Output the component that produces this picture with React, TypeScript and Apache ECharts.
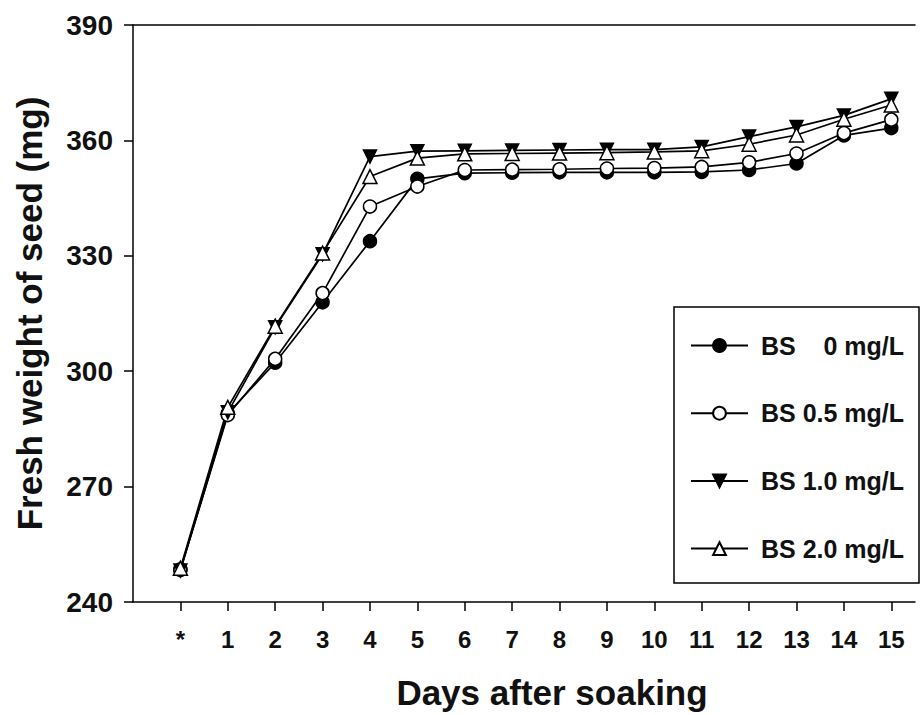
import React, { useEffect, useRef } from "react";
import * as echarts from "echarts";

const days = ["*", "1", "2", "3", "4", "5", "6", "7", "8", "9", "10", "11", "12", "13", "14", "15"];
const bs0 = [248.5, 289.0, 302.2, 317.9, 333.8, 350.0, 351.5, 351.6, 351.7, 351.7, 351.7, 351.8, 352.3, 354.0, 361.3, 363.2];
const bs05 = [248.3, 288.6, 303.2, 320.3, 342.8, 348.0, 352.3, 352.4, 352.5, 352.7, 352.8, 353.1, 354.3, 356.6, 361.9, 365.4];
const bs10 = [248.2, 289.3, 311.4, 330.4, 355.8, 357.2, 357.3, 357.4, 357.5, 357.6, 357.6, 358.3, 361.0, 363.5, 366.5, 370.8];
const bs20 = [248.8, 290.6, 311.7, 330.7, 350.6, 355.4, 356.5, 356.6, 356.7, 356.8, 357.0, 357.3, 359.0, 361.4, 365.5, 369.2];
const seriesNames = ["BS    0 mg/L", "BS 0.5 mg/L", "BS 1.0 mg/L", "BS 2.0 mg/L"];
const yTicks = [240, 270, 300, 330, 360, 390];
const xTitle = "Days after soaking";
const yTitle = "Fresh weight of seed (mg)";

const FONT = "'Liberation Sans', Arial, Helvetica, sans-serif";
const DOWN_TRI = "path://M0,0 L10,0 L5,9 Z";
const UP_TRI = "path://M5,0 L10,9 L0,9 Z";

export default function App() {
  const ref = useRef<HTMLDivElement>(null);
  useEffect(() => {
    if (!ref.current) return;
    const chart = echarts.init(ref.current, null, { renderer: "svg" });
    const dayIdx = days.map((_, i) => i);
    const mk = (name: string, vals: number[], symbol: string, fill: string, size: number) => ({
      name,
      type: "line",
      data: vals.map((v, i) => [i, v]),
      symbol,
      symbolSize: size,
      showAllSymbol: true,
      lineStyle: { color: "#000", width: 1.7 },
      itemStyle: { color: fill, borderColor: "#000", borderWidth: 1.5 },
      z: 3,
    });
    chart.setOption({
      animation: false,
      backgroundColor: "#fff",
      textStyle: { fontFamily: FONT },
      grid: { left: 133, top: 25, right: 8, bottom: 113, containLabel: false },
      legend: {
        orient: "vertical",
        left: 690,
        top: 333,
        padding: 0,
        itemWidth: 57,
        itemHeight: 16,
        itemGap: 42.7,
        textStyle: {
          fontFamily: FONT,
          fontWeight: "bold",
          fontSize: 25,
          color: "#111",
          padding: [0, 0, 0, 8],
        },
        data: seriesNames,
      },
      graphic: [
        {
          type: "rect",
          shape: { x: 674, y: 307, width: 245, height: 276 },
          style: { fill: "none", stroke: "#000", lineWidth: 1.5 },
          z: 1,
        },
        {
          type: "text",
          x: 552,
          y: 692,
          style: {
            text: xTitle,
            fontFamily: FONT,
            fontWeight: "bold",
            fontSize: 35,
            fill: "#111",
            textAlign: "center",
            textVerticalAlign: "middle",
          },
        },
      ],
      xAxis: [
        {
          type: "value",
          min: -1,
          max: 15.5,
          interval: 1,
          axisLine: { show: true, onZero: false, lineStyle: { color: "#000", width: 1.5 } },
          axisTick: {
            show: true,
            inside: false,
            length: 9,
            customValues: dayIdx,
            lineStyle: { color: "#000", width: 1.5 },
          },
          axisLabel: {
            customValues: dayIdx,
            margin: 25,
            fontFamily: FONT,
            fontWeight: "bold",
            fontSize: 24,
            color: "#111",
            formatter: (v: number) => days[v] ?? "",
          },
          splitLine: { show: false },
        },
        {
          type: "value",
          position: "top",
          min: -1,
          max: 15.5,
          axisLine: { show: true, onZero: false, lineStyle: { color: "#000", width: 1.5 } },
          axisTick: { show: false },
          axisLabel: { show: false },
          splitLine: { show: false },
        },
      ],
      yAxis: {
        type: "value",
        min: yTicks[0],
        max: yTicks[yTicks.length - 1],
        interval: 30,
        axisLine: { show: true, onZero: false, lineStyle: { color: "#000", width: 1.5 } },
        axisTick: { show: true, inside: false, length: 9, lineStyle: { color: "#000", width: 1.5 } },
        axisLabel: {
          margin: 20,
          fontFamily: FONT,
          fontWeight: "bold",
          fontSize: 28,
          color: "#111",
        },
        splitLine: { show: false },
        name: yTitle,
        nameLocation: "middle",
        nameGap: 86,
        nameRotate: 90,
        nameTextStyle: { fontFamily: FONT, fontWeight: "bold", fontSize: 35, color: "#111" },
      },
      series: [
        mk(seriesNames[0], bs0, "circle", "#000", 13),
        mk(seriesNames[1], bs05, "circle", "#fff", 13),
        mk(seriesNames[2], bs10, DOWN_TRI, "#000", 13),
        mk(seriesNames[3], bs20, UP_TRI, "#fff", 14),
      ],
    });
    return () => chart.dispose();
  }, []);
  return (
    <div
      ref={ref}
      style={{ position: "fixed", left: 0, top: 0, width: 923, height: 715, background: "#fff" }}
    />
  );
}
